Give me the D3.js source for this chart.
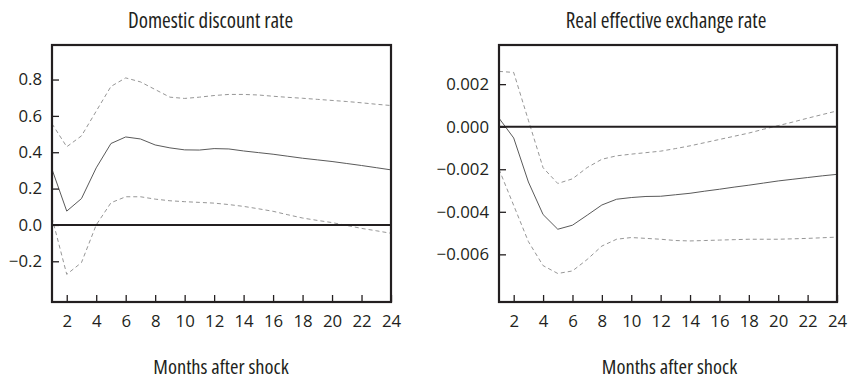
<!DOCTYPE html>
<html><head><meta charset="utf-8">
<script src="https://cdn.jsdelivr.net/npm/d3@7/dist/d3.min.js"></script>
<style>
body{margin:0;background:#fff;}
svg text{font-family:"Open Sans",sans-serif;fill:#231f20;}
svg text.cond{font-stretch:condensed;}
</style></head>
<body><svg id="c" width="854" height="379"></svg>
<script>
const months = [1,2,3,4,5,6,7,8,9,10,11,12,13,14,15,16,17,18,19,20,21,22,23,24];
const xTicks = [2,4,6,8,10,12,14,16,18,20,22,24];

const leftTitle = "Domestic discount rate";
const leftMid   = [0.306,0.076,0.145,0.314,0.448,0.484,0.473,0.440,0.424,0.413,0.412,0.420,0.418,0.407,0.398,0.389,0.378,0.367,0.358,0.349,0.338,0.327,0.315,0.303];
const leftUpper = [0.557,0.430,0.490,0.626,0.762,0.809,0.787,0.745,0.703,0.696,0.703,0.712,0.718,0.718,0.715,0.708,0.702,0.697,0.691,0.685,0.679,0.672,0.664,0.657];
const leftLower = [0.040,-0.272,-0.207,0.000,0.122,0.155,0.155,0.142,0.133,0.128,0.124,0.120,0.112,0.102,0.089,0.075,0.056,0.038,0.025,0.013,-0.003,-0.019,-0.032,-0.046];
const leftTicks = [-0.2,0,0.2,0.4,0.6,0.8];
const leftDomain = [-0.424,0.99];

const rightTitle = "Real effective exchange rate";
const rightMid   = [0.0004,-0.00053,-0.0026,-0.00413,-0.00482,-0.00463,-0.00416,-0.00368,-0.00341,-0.00333,-0.00328,-0.00327,-0.00320,-0.00313,-0.00303,-0.00294,-0.00284,-0.00275,-0.00265,-0.00255,-0.00247,-0.00239,-0.00231,-0.00224];
const rightUpper = [0.0026,0.00255,0.0003,-0.00193,-0.00267,-0.00245,-0.00192,-0.00153,-0.00137,-0.00129,-0.00122,-0.00115,-0.00103,-0.00090,-0.00075,-0.00060,-0.00045,-0.00030,-0.00012,0.00005,0.00022,0.00040,0.00057,0.00074];
const rightLower = [-0.0020,-0.0037,-0.0054,-0.00653,-0.0069,-0.00678,-0.00624,-0.00561,-0.00529,-0.00521,-0.00525,-0.00529,-0.00535,-0.00537,-0.00535,-0.00533,-0.00531,-0.00529,-0.00529,-0.00529,-0.00527,-0.00525,-0.00522,-0.00519];
const rightTicks = [-0.006,-0.004,-0.002,0,0.002];
const rightDomain = [-0.00824,0.00384];

const xLabel = "Months after shock";
const svg = d3.select("#c");

function minus(s){ return s.replace("-", "\u2212"); }

function panel(cfg){
  const {left,right,top,bottom,title,titleX,mid,upper,lower,ticks,domain,fmt,labelX} = cfg;
  const x = d3.scaleLinear().domain([1,24]).range([left,right]);
  const y = d3.scaleLinear().domain(domain).range([bottom,top]);
  const g = svg.append("g");

  const line = d3.line().x((d,i)=>x(months[i])).y(d=>y(d));
  g.append("path").datum(upper).attr("d",line).attr("fill","none")
    .attr("stroke","#8a8a8a").attr("stroke-width",0.9).attr("stroke-dasharray","4,3");
  g.append("path").datum(lower).attr("d",line).attr("fill","none")
    .attr("stroke","#8a8a8a").attr("stroke-width",0.9).attr("stroke-dasharray","4,3");
  g.append("path").datum(mid).attr("d",line).attr("fill","none")
    .attr("stroke","#5a5a5a").attr("stroke-width",1);

  g.append("line").attr("x1",left).attr("x2",right).attr("y1",y(0)).attr("y2",y(0))
    .attr("stroke","#231f20").attr("stroke-width",2);

  const ya = g.append("g").attr("transform",`translate(${left},0)`)
    .call(d3.axisLeft(y).tickValues(ticks).tickFormat(d=>minus(d3.format(fmt)(d))).tickSizeInner(-7).tickSizeOuter(0).tickPadding(10));
  ya.select(".domain").remove();
  ya.selectAll("line").attr("stroke","#231f20").attr("stroke-width",1.3);
  ya.selectAll("text").attr("font-size",16.8).attr("fill","#231f20");

  const xa = g.append("g").attr("transform",`translate(0,${bottom})`)
    .call(d3.axisBottom(x).tickValues(xTicks).tickFormat(d3.format("d")).tickSizeInner(-7).tickSizeOuter(0).tickPadding(13));
  xa.select(".domain").remove();
  xa.selectAll("line").attr("stroke","#231f20").attr("stroke-width",1.3);
  xa.selectAll("text").attr("font-size",16.8).attr("fill","#231f20");

  g.append("rect").attr("x",left).attr("y",top).attr("width",right-left).attr("height",bottom-top)
    .attr("fill","none").attr("stroke","#231f20").attr("stroke-width",2.2);

  g.append("text").attr("class","cond").attr("x",titleX).attr("y",28).attr("text-anchor","middle")
    .attr("font-size",21).text(title);
  g.append("text").attr("class","cond").attr("x",labelX).attr("y",373.5).attr("text-anchor","middle")
    .attr("font-size",20.5).text(xLabel);
}

panel({left:52,right:391,top:45,bottom:302,title:leftTitle,titleX:210.5,mid:leftMid,upper:leftUpper,lower:leftLower,ticks:leftTicks,domain:leftDomain,fmt:".1f",labelX:221});
panel({left:499,right:837,top:45,bottom:302,title:rightTitle,titleX:666,mid:rightMid,upper:rightUpper,lower:rightLower,ticks:rightTicks,domain:rightDomain,fmt:".3f",labelX:669.5});
</script></body></html>
